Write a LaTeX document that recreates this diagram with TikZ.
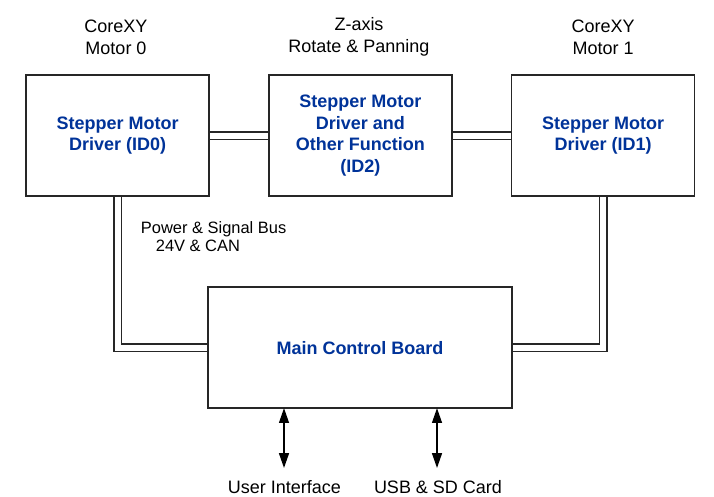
\documentclass[tikz,border=0pt]{standalone}
\usepackage{fontspec}
\setmainfont{Liberation Sans}
\usetikzlibrary{arrows.meta,backgrounds}
\definecolor{boardblue}{RGB}{0,51,153}
\begin{document}
\begin{tikzpicture}[every node/.style={font=\fontsize{12.8}{15.6}\selectfont},
  board/.style={draw=black!85,line width=1.07pt,fill=white,minimum width=4.575cm,minimum height=3.025cm,align=center,outer sep=0pt,text=boardblue,font=\fontsize{12.8}{15.6}\selectfont\bfseries},
  bus/.style={draw=black!85,line width=1.07pt,double=white,double distance=4.3pt},
  io/.style={{Triangle[length=10.5pt,width=7pt]}-{Triangle[length=10.5pt,width=7pt]},line width=1.07pt}]
\useasboundingbox (0,0) rectangle (17.85,12.4);
% Driver boards along the top
\node[board] (id0) at (2.94,9.01) {Stepper Motor\\Driver (ID0)};
\node[board] (id2) at (9.01,9.01) {Stepper Motor\\Driver and\\Other Function\\(ID2)};
\node[board] (id1) at (15.08,9.01) {Stepper Motor\\Driver (ID1)};
% Main board
\node[board,minimum width=7.6cm] (main) at (9.0,3.71) {Main Control Board};
% Axis captions
\node[align=center] (cap0) at (2.9,11.475) {CoreXY\\Motor 0};
\node[align=center] (cap2) at (8.975,11.475) {Z-axis\\Rotate \& Panning};
\node[align=center] (cap1) at (15.08,11.475) {CoreXY\\Motor 1};
\node[align=left,anchor=west,font=\fontsize{11.7}{12.8}\selectfont] (buslbl) at (3.4,6.475) {Power \& Signal Bus\\\hspace*{10.6pt}24V \& CAN};
% Outside connections
\node (ui) at (7.11,0.225) {User Interface};
\node (usb) at (10.95,0.225) {USB \& SD Card};
\coordinate (uiend) at (7.1,0.7);
\coordinate (usbend) at (10.925,0.7);
% Power & signal bus, behind the boards
\begin{pgfonlayer}{background}
\draw[bus] (id0) -- (id2);
\draw[bus] (id2) -- (id1);
\draw[bus] (id0.south) |- (main.west);
\draw[bus] (id1.south) |- (main.east);
\end{pgfonlayer}
\foreach \target in {uiend,usbend} \draw[io] (main.south -| \target) -- (\target);
\end{tikzpicture}
\end{document}
